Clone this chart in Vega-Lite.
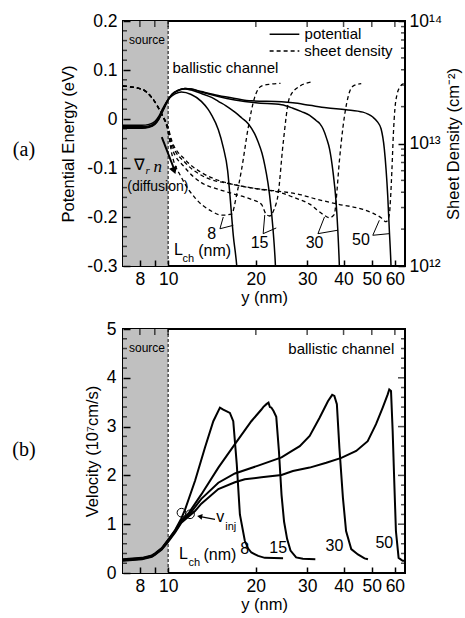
{
 "$schema": "https://vega.github.io/schema/vega-lite/v6.json",
 "padding": {"left": 11, "top": 11, "right": 0, "bottom": 0},
 "background": "white",
 "config": {
  "font": "Liberation Sans",
  "view": {"stroke": "black", "strokeWidth": 2},
  "axis": {"domain": false, "grid": false, "tickColor": "black", "tickWidth": 1.5, "labelColor": "black", "titleColor": "black", "labelFontSize": 17.5, "titleFontSize": 16.5, "titleFontWeight": "normal", "labelFont": "Liberation Sans", "titleFont": "Liberation Sans", "zindex": 1}
 },
 "datasets": {
  "pot": [
   {"y":7,"E":-0.013,"L":8},{"y":8.13,"E":-0.013,"L":8},{"y":8.6,"E":-0.011,"L":8},{"y":9.0,"E":-0.005,"L":8},{"y":9.3,"E":0.006,"L":8},{"y":9.6,"E":0.022,"L":8},{"y":9.95,"E":0.038,"L":8},{"y":10.3,"E":0.047,"L":8},{"y":10.85,"E":0.054,"L":8},{"y":11.1,"E":0.055,"L":8},{"y":12.0,"E":0.05,"L":8},{"y":13.0,"E":0.036,"L":8},{"y":13.7,"E":0.02,"L":8},{"y":14.1,"E":0.008,"L":8},{"y":14.87,"E":-0.022,"L":8},{"y":15.46,"E":-0.058,"L":8},{"y":16.0,"E":-0.105,"L":8},{"y":16.3,"E":-0.156,"L":8},{"y":16.73,"E":-0.237,"L":8},{"y":17.2,"E":-0.3,"L":8},{"y":17.4,"E":-0.34,"L":8},
   {"y":7,"E":-0.016,"L":15},{"y":8.13,"E":-0.016,"L":15},{"y":8.6,"E":-0.014,"L":15},{"y":9.0,"E":-0.008,"L":15},{"y":9.3,"E":0.003,"L":15},{"y":9.6,"E":0.02,"L":15},{"y":9.95,"E":0.038,"L":15},{"y":10.3,"E":0.05,"L":15},{"y":10.85,"E":0.058,"L":15},{"y":11.43,"E":0.061,"L":15},{"y":12.0,"E":0.059,"L":15},{"y":13.0,"E":0.052,"L":15},{"y":14.1,"E":0.044,"L":15},{"y":14.87,"E":0.036,"L":15},{"y":15.8,"E":0.027,"L":15},{"y":16.95,"E":0.014,"L":15},{"y":17.9,"E":0.002,"L":15},{"y":18.83,"E":-0.0095,"L":15},{"y":19.8,"E":-0.03,"L":15},{"y":20.37,"E":-0.047,"L":15},{"y":21.0,"E":-0.07,"L":15},{"y":21.46,"E":-0.094,"L":15},{"y":22.0,"E":-0.13,"L":15},{"y":22.3,"E":-0.156,"L":15},{"y":22.9,"E":-0.224,"L":15},{"y":23.35,"E":-0.3,"L":15},{"y":23.5,"E":-0.34,"L":15},
   {"y":7,"E":-0.018,"L":30},{"y":8.13,"E":-0.018,"L":30},{"y":8.6,"E":-0.016,"L":30},{"y":9.0,"E":-0.01,"L":30},{"y":9.3,"E":0.001,"L":30},{"y":9.6,"E":0.018,"L":30},{"y":9.95,"E":0.037,"L":30},{"y":10.3,"E":0.05,"L":30},{"y":10.85,"E":0.059,"L":30},{"y":11.43,"E":0.062,"L":30},{"y":12.0,"E":0.061,"L":30},{"y":13.0,"E":0.055,"L":30},{"y":14.87,"E":0.046,"L":30},{"y":16.95,"E":0.039,"L":30},{"y":20.0,"E":0.033,"L":30},{"y":24.5,"E":0.029,"L":30},{"y":26.8,"E":0.022,"L":30},{"y":28.7,"E":0.015,"L":30},{"y":30.6,"E":0.0075,"L":30},{"y":32.2,"E":-0.003,"L":30},{"y":33.2,"E":-0.01,"L":30},{"y":34.0,"E":-0.02,"L":30},{"y":35.0,"E":-0.04,"L":30},{"y":35.8,"E":-0.061,"L":30},{"y":36.8,"E":-0.108,"L":30},{"y":37.7,"E":-0.169,"L":30},{"y":38.2,"E":-0.224,"L":30},{"y":38.7,"E":-0.3,"L":30},{"y":38.9,"E":-0.34,"L":30},
   {"y":7,"E":-0.019,"L":50},{"y":8.13,"E":-0.019,"L":50},{"y":8.6,"E":-0.017,"L":50},{"y":9.0,"E":-0.011,"L":50},{"y":9.3,"E":0.0,"L":50},{"y":9.6,"E":0.017,"L":50},{"y":9.95,"E":0.036,"L":50},{"y":10.3,"E":0.05,"L":50},{"y":10.85,"E":0.059,"L":50},{"y":11.43,"E":0.062,"L":50},{"y":12.0,"E":0.061,"L":50},{"y":13.0,"E":0.056,"L":50},{"y":14.87,"E":0.048,"L":50},{"y":16.95,"E":0.042,"L":50},{"y":19.3,"E":0.037,"L":50},{"y":24.5,"E":0.035,"L":50},{"y":26.8,"E":0.033,"L":50},{"y":30.6,"E":0.028,"L":50},{"y":34.9,"E":0.023,"L":50},{"y":40.8,"E":0.019,"L":50},{"y":46.6,"E":0.014,"L":50},{"y":48.5,"E":0.01,"L":50},{"y":50.4,"E":0.004,"L":50},{"y":52.3,"E":-0.006,"L":50},{"y":53.8,"E":-0.02,"L":50},{"y":55.2,"E":-0.061,"L":50},{"y":56.0,"E":-0.105,"L":50},{"y":56.7,"E":-0.156,"L":50},{"y":57.4,"E":-0.224,"L":50},{"y":58.2,"E":-0.3,"L":50},{"y":58.5,"E":-0.34,"L":50}
  ],
  "dens": [
   {"y":7,"n":2.94e13,"L":8},{"y":8.13,"n":2.77e13,"L":8},{"y":8.79,"n":2.37e13,"L":8},{"y":9.51,"n":1.73e13,"L":8},{"y":9.95,"n":1.3e13,"L":8},{"y":10.3,"n":8.2e12,"L":8},{"y":11.1,"n":5.3e12,"L":8},{"y":12.37,"n":3.6e12,"L":8},{"y":14.1,"n":2.8e12,"L":8},{"y":15.3,"n":2.6e12,"L":8},{"y":16.5,"n":2.65e12,"L":8},{"y":17.2,"n":3.85e12,"L":8},{"y":17.9,"n":6.3e12,"L":8},{"y":18.83,"n":1.35e13,"L":8},{"y":19.8,"n":2.37e13,"L":8},{"y":20.9,"n":2.94e13,"L":8},{"y":22.5,"n":3.05e13,"L":8},{"y":24.3,"n":3.1e13,"L":8},
   {"y":7,"n":2.94e13,"L":15},{"y":8.13,"n":2.77e13,"L":15},{"y":8.79,"n":2.37e13,"L":15},{"y":9.51,"n":1.73e13,"L":15},{"y":9.95,"n":1.35e13,"L":15},{"y":10.3,"n":9.25e12,"L":15},{"y":11.43,"n":6.34e12,"L":15},{"y":13.0,"n":4.79e12,"L":15},{"y":14.87,"n":4.23e12,"L":15},{"y":16.95,"n":3.85e12,"L":15},{"y":19.3,"n":3.5e12,"L":15},{"y":20.9,"n":3.19e12,"L":15},{"y":21.7,"n":2.64e12,"L":15},{"y":22.3,"n":2.56e12,"L":15},{"y":23.1,"n":2.9e12,"L":15},{"y":23.85,"n":3.85e12,"L":15},{"y":24.8,"n":9.9e12,"L":15},{"y":26.1,"n":2.37e13,"L":15},{"y":28.3,"n":2.94e13,"L":15},{"y":31.4,"n":3.19e13,"L":15},
   {"y":7,"n":2.94e13,"L":30},{"y":8.13,"n":2.77e13,"L":30},{"y":8.79,"n":2.37e13,"L":30},{"y":9.51,"n":1.73e13,"L":30},{"y":9.95,"n":1.38e13,"L":30},{"y":10.3,"n":1.0e13,"L":30},{"y":11.43,"n":7.0e12,"L":30},{"y":13.0,"n":5.5e12,"L":30},{"y":16.95,"n":4.6e12,"L":30},{"y":20.4,"n":4.25e12,"L":30},{"y":24.5,"n":3.95e12,"L":30},{"y":26.8,"n":3.65e12,"L":30},{"y":30.6,"n":3.2e12,"L":30},{"y":34.0,"n":2.64e12,"L":30},{"y":35.8,"n":2.48e12,"L":30},{"y":37.2,"n":2.64e12,"L":30},{"y":37.7,"n":3.4e12,"L":30},{"y":38.7,"n":7.2e12,"L":30},{"y":39.8,"n":1.35e13,"L":30},{"y":41.4,"n":2.37e13,"L":30},{"y":43.1,"n":2.94e13,"L":30},{"y":46.0,"n":3.08e13,"L":30},
   {"y":7,"n":2.94e13,"L":50},{"y":8.13,"n":2.77e13,"L":50},{"y":8.79,"n":2.37e13,"L":50},{"y":9.51,"n":1.73e13,"L":50},{"y":9.95,"n":1.4e13,"L":50},{"y":10.3,"n":1.05e13,"L":50},{"y":11.43,"n":7.4e12,"L":50},{"y":13.0,"n":5.8e12,"L":50},{"y":15.3,"n":4.9e12,"L":50},{"y":16.95,"n":4.6e12,"L":50},{"y":21.46,"n":4.2e12,"L":50},{"y":24.5,"n":4.05e12,"L":50},{"y":28.7,"n":3.8e12,"L":50},{"y":31.8,"n":3.55e12,"L":50},{"y":38.2,"n":3.2e12,"L":50},{"y":46.6,"n":2.9e12,"L":50},{"y":50.4,"n":2.7e12,"L":50},{"y":53.8,"n":2.48e12,"L":50},{"y":56.0,"n":2.3e12,"L":50},{"y":57.4,"n":2.6e12,"L":50},{"y":58.0,"n":3.6e12,"L":50},{"y":58.6,"n":6e12,"L":50},{"y":59.3,"n":1.2e13,"L":50},{"y":60.0,"n":1.9e13,"L":50},{"y":61.0,"n":2.5e13,"L":50},{"y":62.5,"n":2.9e13,"L":50},{"y":64.5,"n":3.1e13,"L":50}
  ],
  "brk": [
   {"y":15.46,"E":-0.2,"L":8,"i":0},{"y":15.06,"E":-0.224,"L":8,"i":1},{"y":16.73,"E":-0.217,"L":8,"i":2},
   {"y":21.46,"E":-0.196,"L":15,"i":0},{"y":21.19,"E":-0.234,"L":15,"i":1},{"y":23.5,"E":-0.2224,"L":15,"i":2},
   {"y":34.4,"E":-0.2,"L":30,"i":0},{"y":32.67,"E":-0.234,"L":30,"i":1},{"y":38.2,"E":-0.227,"L":30,"i":2},
   {"y":53.06,"E":-0.2067,"L":50,"i":0},{"y":50.4,"E":-0.2373,"L":50,"i":1},{"y":57.4,"E":-0.234,"L":50,"i":2}
  ],
  "vel": [
   {"y":7,"v":0.27,"L":8},{"y":8.13,"v":0.3,"L":8},{"y":8.79,"v":0.35,"L":8},{"y":9.0,"v":0.39,"L":8},{"y":9.51,"v":0.5,"L":8},{"y":10.0,"v":0.68,"L":8},{"y":10.57,"v":0.88,"L":8},{"y":11.1,"v":1.12,"L":8},{"y":11.43,"v":1.3,"L":8},{"y":12.37,"v":1.89,"L":8},{"y":13.38,"v":2.57,"L":8},{"y":14.29,"v":3.11,"L":8},{"y":15.06,"v":3.39,"L":8},{"y":15.46,"v":3.35,"L":8},{"y":16.29,"v":3.28,"L":8},{"y":16.73,"v":3.11,"L":8},{"y":17.2,"v":2.23,"L":8},{"y":17.63,"v":1.2,"L":8},{"y":18.33,"v":0.66,"L":8},{"y":18.83,"v":0.5,"L":8},{"y":19.3,"v":0.42,"L":8},{"y":20.37,"v":0.35,"L":8},{"y":21.46,"v":0.31,"L":8},{"y":24.8,"v":0.3,"L":8},
   {"y":7,"v":0.28,"L":15},{"y":8.13,"v":0.31,"L":15},{"y":8.79,"v":0.36,"L":15},{"y":9.0,"v":0.4,"L":15},{"y":9.51,"v":0.51,"L":15},{"y":10.0,"v":0.68,"L":15},{"y":10.57,"v":0.87,"L":15},{"y":11.1,"v":1.08,"L":15},{"y":11.74,"v":1.22,"L":15},{"y":13.0,"v":1.61,"L":15},{"y":14.87,"v":2.16,"L":15},{"y":16.95,"v":2.64,"L":15},{"y":19.3,"v":3.11,"L":15},{"y":20.9,"v":3.35,"L":15},{"y":21.2,"v":3.4,"L":15},{"y":21.74,"v":3.46,"L":15},{"y":22.1,"v":3.49,"L":15},{"y":22.35,"v":3.4,"L":15},{"y":22.6,"v":3.39,"L":15},{"y":23.0,"v":3.32,"L":15},{"y":23.5,"v":3.2,"L":15},{"y":24.0,"v":2.5,"L":15},{"y":24.5,"v":1.6,"L":15},{"y":25.0,"v":1.05,"L":15},{"y":25.6,"v":0.7,"L":15},{"y":26.3,"v":0.46,"L":15},{"y":27.5,"v":0.32,"L":15},{"y":29.0,"v":0.29,"L":15},{"y":32.0,"v":0.28,"L":15},
   {"y":7,"v":0.26,"L":30},{"y":8.13,"v":0.29,"L":30},{"y":8.79,"v":0.34,"L":30},{"y":9.0,"v":0.38,"L":30},{"y":9.51,"v":0.49,"L":30},{"y":10.0,"v":0.66,"L":30},{"y":10.57,"v":0.85,"L":30},{"y":11.1,"v":1.05,"L":30},{"y":12.0,"v":1.25,"L":30},{"y":13.0,"v":1.52,"L":30},{"y":14.87,"v":1.85,"L":30},{"y":16.95,"v":2.04,"L":30},{"y":20.37,"v":2.2,"L":30},{"y":24.5,"v":2.37,"L":30},{"y":26.1,"v":2.47,"L":30},{"y":28.3,"v":2.6,"L":30},{"y":30.6,"v":2.81,"L":30},{"y":33.1,"v":3.18,"L":30},{"y":35.35,"v":3.52,"L":30},{"y":36.57,"v":3.65,"L":30},{"y":37.2,"v":3.63,"L":30},{"y":37.94,"v":3.46,"L":30},{"y":38.7,"v":2.57,"L":30},{"y":39.8,"v":1.54,"L":30},{"y":40.8,"v":0.86,"L":30},{"y":42.5,"v":0.49,"L":30},{"y":44.8,"v":0.38,"L":30},{"y":47.2,"v":0.3,"L":30},{"y":48.5,"v":0.28,"L":30},
   {"y":7,"v":0.25,"L":50},{"y":8.13,"v":0.28,"L":50},{"y":8.79,"v":0.33,"L":50},{"y":9.0,"v":0.37,"L":50},{"y":9.51,"v":0.48,"L":50},{"y":10.0,"v":0.64,"L":50},{"y":10.57,"v":0.83,"L":50},{"y":11.1,"v":1.03,"L":50},{"y":12.37,"v":1.27,"L":50},{"y":13.0,"v":1.42,"L":50},{"y":14.87,"v":1.72,"L":50},{"y":16.95,"v":1.86,"L":50},{"y":18.33,"v":1.92,"L":50},{"y":20.9,"v":1.96,"L":50},{"y":24.5,"v":2.01,"L":50},{"y":26.8,"v":2.09,"L":50},{"y":30.6,"v":2.16,"L":50},{"y":34.9,"v":2.26,"L":50},{"y":39.3,"v":2.36,"L":50},{"y":44.2,"v":2.5,"L":50},{"y":48.4,"v":2.7,"L":50},{"y":51.7,"v":3.05,"L":50},{"y":54.5,"v":3.39,"L":50},{"y":56.7,"v":3.66,"L":50},{"y":57.4,"v":3.76,"L":50},{"y":58.2,"v":3.73,"L":50},{"y":58.96,"v":2.91,"L":50},{"y":59.7,"v":1.89,"L":50},{"y":60.5,"v":0.86,"L":50},{"y":61.8,"v":0.31,"L":50},{"y":63.8,"v":0.25,"L":50},{"y":64.8,"v":0.25,"L":50}
  ],
  "xticks": [{"t":8},{"t":9},{"t":10},{"t":20},{"t":30},{"t":40},{"t":50},{"t":60}],
  "eminor": [{"t":-0.28},{"t":-0.26},{"t":-0.24},{"t":-0.22},{"t":-0.18},{"t":-0.16},{"t":-0.14},{"t":-0.12},{"t":-0.08},{"t":-0.06},{"t":-0.04},{"t":-0.02},{"t":0.02},{"t":0.04},{"t":0.06},{"t":0.08},{"t":0.12},{"t":0.14},{"t":0.16},{"t":0.18}],
  "nminor": [{"t":2e12},{"t":3e12},{"t":4e12},{"t":5e12},{"t":6e12},{"t":7e12},{"t":8e12},{"t":9e12},{"t":2e13},{"t":3e13},{"t":4e13},{"t":5e13},{"t":6e13},{"t":7e13},{"t":8e13},{"t":9e13}],
  "vmajor": [{"t":1},{"t":2},{"t":3},{"t":4}],
  "vminor": [{"t":0.2},{"t":0.4},{"t":0.6},{"t":0.8},{"t":1.2},{"t":1.4},{"t":1.6},{"t":1.8},{"t":2.2},{"t":2.4},{"t":2.6},{"t":2.8},{"t":3.2},{"t":3.4},{"t":3.6},{"t":3.8},{"t":4.2},{"t":4.4},{"t":4.6},{"t":4.8}]
 },
 "spacing": 63,
 "bounds": "flush",
 "vconcat": [
  {
   "width": 282, "height": 245,
   "resolve": {"scale": {"y": "independent"}},
   "layer": [
    {
     "layer": [
      {"data": {"values": [{"y0": 7, "y1": 10}]},
       "mark": {"type": "rect", "color": "#c0c0c0"},
       "encoding": {
        "x": {"field": "y0", "type": "quantitative", "scale": {"type": "log", "domain": [7, 65], "nice": false},
              "axis": {"orient": "bottom", "zindex": 2, "values": [8,9,10,20,30,40,50,60], "labelExpr": "datum.value == 9 ? '' : '' + datum.value", "title": "y (nm)", "tickSize": -6, "labelPadding": 10, "titlePadding": 2}},
        "x2": {"field": "y1"}}},
      {"data": {"values": [{"y": 10}]},
       "mark": {"type": "rule", "strokeDash": [3, 2], "strokeWidth": 1, "color": "black"},
       "encoding": {"x": {"field": "y", "type": "quantitative"}}},
      {"data": {"name": "pot"},
       "mark": {"type": "line", "clip": true, "color": "black", "strokeWidth": 1.5, "interpolate": "monotone"},
       "encoding": {
        "x": {"field": "y", "type": "quantitative"},
        "y": {"field": "E", "type": "quantitative", "scale": {"domain": [-0.3, 0.2], "nice": false, "zero": false},
              "axis": {"orient": "left", "zindex": 2, "values": [-0.3,-0.2,-0.1,0,0.1,0.2], "labelExpr": "datum.value == 0 ? '0' : (datum.value < 0 ? '-' : '') + format(abs(datum.value), '.1f')", "title": "Potential Energy (eV)", "tickSize": -7, "labelPadding": 13, "titlePadding": 10}},
        "detail": {"field": "L"}}},
      {"data": {"name": "brk"},
       "mark": {"type": "line", "color": "black", "strokeWidth": 1},
       "encoding": {
        "x": {"field": "y", "type": "quantitative"},
        "y": {"field": "E", "type": "quantitative"},
        "detail": {"field": "L"},
        "order": {"field": "i"}}},
      {"data": {"name": "xticks"},
       "mark": {"type": "tick", "orient": "vertical", "clip": true, "color": "black", "size": 12, "thickness": 1.5},
       "encoding": {
        "x": {"field": "t", "type": "quantitative"},
        "y": {"datum": 0.2, "type": "quantitative"}}},
      {"data": {"name": "eminor"},
       "mark": {"type": "tick", "orient": "horizontal", "clip": true, "color": "black", "size": 8, "thickness": 1.5},
       "encoding": {
        "x": {"datum": 7, "type": "quantitative"},
        "y": {"field": "t", "type": "quantitative"}}},
      {"data": {"values": [{"y": 9.51, "E": -0.037}, {"y": 10.45, "E": -0.1}]},
       "mark": {"type": "line", "color": "black", "strokeWidth": 2},
       "encoding": {
        "x": {"field": "y", "type": "quantitative"},
        "y": {"field": "E", "type": "quantitative"}}},
      {"data": {"values": [{"y": 10.49, "E": -0.1055}]},
       "mark": {"type": "point", "shape": "triangle-up", "angle": 160, "filled": true, "color": "black", "opacity": 1, "size": 70},
       "encoding": {
        "x": {"field": "y", "type": "quantitative"},
        "y": {"field": "E", "type": "quantitative"}}},
      {"data": {"values": [{"y": 22.3, "E": 0.1729, "k": "potential"}, {"y": 28.2, "E": 0.1729, "k": "potential"}, {"y": 22.3, "E": 0.1388, "k": "sheet density"}, {"y": 28.2, "E": 0.1388, "k": "sheet density"}]},
       "mark": {"type": "line", "color": "black", "strokeWidth": 1.5},
       "encoding": {
        "x": {"field": "y", "type": "quantitative"},
        "y": {"field": "E", "type": "quantitative"},
        "detail": {"field": "k"},
        "strokeDash": {"field": "k", "type": "nominal", "scale": {"domain": ["potential", "sheet density"], "range": [[1, 0], [4, 3]]}, "legend": null}}},
      {"data": {"values": [{"y": 10.35, "E": 0.104, "t": "ballistic channel"}, {"y": 29.4, "E": 0.174, "t": "potential"}, {"y": 29.3, "E": 0.1388, "t": "sheet density"}]},
       "mark": {"type": "text", "align": "left", "baseline": "middle", "fontSize": 15, "color": "black"},
       "encoding": {
        "x": {"field": "y", "type": "quantitative"},
        "y": {"field": "E", "type": "quantitative"},
        "text": {"field": "t"}}},
      {"data": {"values": [{"y": 14.1, "E": -0.234, "t": "8"}, {"y": 20.6, "E": -0.254, "t": "15"}, {"y": 31.8, "E": -0.254, "t": "30"}, {"y": 45.9, "E": -0.2475, "t": "50"}, {"y": 14.44, "E": -0.27, "t": "(nm)"}, {"y": 10.85, "E": -0.268, "t": "L"}]},
       "mark": {"type": "text", "align": "center", "baseline": "middle", "fontSize": 16, "color": "black"},
       "encoding": {
        "x": {"field": "y", "type": "quantitative"},
        "y": {"field": "E", "type": "quantitative"},
        "text": {"field": "t"}}},
      {"data": {"values": [{"y": 11.74, "E": -0.285, "t": "ch"}]},
       "mark": {"type": "text", "align": "center", "baseline": "middle", "fontSize": 11, "color": "black"},
       "encoding": {
        "x": {"field": "y", "type": "quantitative"},
        "y": {"field": "E", "type": "quantitative"},
        "text": {"field": "t"}}},
      {"data": {"values": [{"y": 8.46, "E": 0.1606, "t": "source"}]},
       "mark": {"type": "text", "align": "center", "baseline": "middle", "fontSize": 12, "color": "black"},
       "encoding": {
        "x": {"field": "y", "type": "quantitative"},
        "y": {"field": "E", "type": "quantitative"},
        "text": {"field": "t"}}},
      {"data": {"values": [{"y": 9.22, "E": -0.139, "t": "(diffusion)"}]},
       "mark": {"type": "text", "align": "center", "baseline": "middle", "fontSize": 14, "color": "black"},
       "encoding": {
        "x": {"field": "y", "type": "quantitative"},
        "y": {"field": "E", "type": "quantitative"},
        "text": {"field": "t"}}},
      {"data": {"values": [{"y": 7.97, "E": -0.0939, "t": "∇"}]},
       "mark": {"type": "text", "align": "center", "baseline": "middle", "fontSize": 16, "font": "Liberation Serif", "color": "black"},
       "encoding": {
        "x": {"field": "y", "type": "quantitative"},
        "y": {"field": "E", "type": "quantitative"},
        "text": {"field": "t"}}},
      {"data": {"values": [{"y": 9.22, "E": -0.097, "t": "n"}]},
       "mark": {"type": "text", "align": "center", "baseline": "middle", "fontSize": 17, "font": "Liberation Serif", "fontStyle": "italic", "color": "black"},
       "encoding": {
        "x": {"field": "y", "type": "quantitative"},
        "y": {"field": "E", "type": "quantitative"},
        "text": {"field": "t"}}},
      {"data": {"values": [{"y": 8.5, "E": -0.107, "t": "r"}]},
       "mark": {"type": "text", "align": "center", "baseline": "middle", "fontSize": 11, "font": "Liberation Serif", "fontStyle": "italic", "color": "black"},
       "encoding": {
        "x": {"field": "y", "type": "quantitative"},
        "y": {"field": "E", "type": "quantitative"},
        "text": {"field": "t"}}},
      {"data": {"values": [{"y": 3.2, "E": -0.063, "t": "(a)"}]},
       "mark": {"type": "text", "align": "center", "baseline": "middle", "fontSize": 20, "font": "Liberation Serif", "color": "black"},
       "encoding": {
        "x": {"field": "y", "type": "quantitative"},
        "y": {"field": "E", "type": "quantitative"},
        "text": {"field": "t"}}}
     ]
    },
    {
     "layer": [
      {"data": {"name": "dens"},
       "mark": {"type": "line", "clip": true, "color": "black", "strokeWidth": 1.3, "strokeDash": [4, 3], "interpolate": "monotone"},
       "encoding": {
        "x": {"field": "y", "type": "quantitative"},
        "y": {"field": "n", "type": "quantitative", "scale": {"type": "log", "domain": [1e12, 1e14], "nice": false},
              "axis": {"orient": "right", "zindex": 2, "values": [1e12, 1e13, 1e14], "labelExpr": "datum.value == 1e12 ? '10¹²' : datum.value == 1e13 ? '10¹³' : '10¹⁴'", "title": "Sheet Density (cm⁻²)", "titleAngle": 270, "titleBaseline": "top", "tickSize": -7, "labelPadding": 11, "titlePadding": 4}},
        "detail": {"field": "L"}}},
      {"data": {"name": "nminor"},
       "mark": {"type": "tick", "orient": "horizontal", "clip": true, "color": "black", "size": 8, "thickness": 1.5},
       "encoding": {
        "x": {"datum": 65, "type": "quantitative"},
        "y": {"field": "t", "type": "quantitative"}}}
     ]
    }
   ]
  },
  {
   "width": 282, "height": 244,
   "layer": [
    {"data": {"values": [{"y0": 7, "y1": 10}]},
     "mark": {"type": "rect", "color": "#c0c0c0"},
     "encoding": {
      "x": {"field": "y0", "type": "quantitative", "scale": {"type": "log", "domain": [7, 65], "nice": false},
            "axis": {"orient": "bottom", "zindex": 2, "values": [8,9,10,20,30,40,50,60], "labelExpr": "datum.value == 9 ? '' : '' + datum.value", "title": "y (nm)", "tickSize": -6, "labelPadding": 10, "titlePadding": 2}},
      "x2": {"field": "y1"}}},
    {"data": {"values": [{"y": 10}]},
     "mark": {"type": "rule", "strokeDash": [3, 2], "strokeWidth": 1, "color": "black"},
     "encoding": {"x": {"field": "y", "type": "quantitative"}}},
    {"data": {"name": "vel"},
     "mark": {"type": "line", "color": "black", "strokeWidth": 2},
     "encoding": {
      "x": {"field": "y", "type": "quantitative"},
      "y": {"field": "v", "type": "quantitative", "scale": {"domain": [0, 5], "nice": false},
            "axis": {"orient": "left", "zindex": 2, "values": [0,1,2,3,4,5], "title": "Velocity (10⁷cm/s)", "tickSize": -7, "labelPadding": 14, "titlePadding": 5.5}},
      "detail": {"field": "L"}}},
    {"data": {"name": "xticks"},
     "mark": {"type": "tick", "orient": "vertical", "clip": true, "color": "black", "size": 12, "thickness": 1.5},
     "encoding": {
      "x": {"field": "t", "type": "quantitative"},
      "y": {"datum": 5, "type": "quantitative"}}},
    {"data": {"name": "vminor"},
     "mark": {"type": "tick", "orient": "horizontal", "clip": true, "color": "black", "size": 8, "thickness": 1.5},
     "encoding": {
      "x": {"datum": 7, "type": "quantitative"},
      "y": {"field": "t", "type": "quantitative"}}},
    {"data": {"name": "vminor"},
     "mark": {"type": "tick", "orient": "horizontal", "clip": true, "color": "black", "size": 8, "thickness": 1.5},
     "encoding": {
      "x": {"datum": 65, "type": "quantitative"},
      "y": {"field": "t", "type": "quantitative"}}},
    {"data": {"name": "vmajor"},
     "mark": {"type": "tick", "orient": "horizontal", "clip": true, "color": "black", "size": 14, "thickness": 1.5},
     "encoding": {
      "x": {"datum": 65, "type": "quantitative"},
      "y": {"field": "t", "type": "quantitative"}}},
    {"data": {"values": [{"y": 11.11, "v": 1.236}, {"y": 11.89, "v": 1.203}]},
     "mark": {"type": "point", "shape": "circle", "filled": false, "color": "black", "strokeWidth": 1, "size": 75, "opacity": 1},
     "encoding": {
      "x": {"field": "y", "type": "quantitative"},
      "y": {"field": "v", "type": "quantitative"}}},
    {"data": {"values": [{"y": 14.48, "v": 1.1}, {"y": 12.9, "v": 1.157}]},
     "mark": {"type": "line", "color": "black", "strokeWidth": 1.2},
     "encoding": {
      "x": {"field": "y", "type": "quantitative"},
      "y": {"field": "v", "type": "quantitative"}}},
    {"data": {"values": [{"y": 12.83, "v": 1.16}]},
     "mark": {"type": "point", "shape": "triangle-up", "angle": 280, "filled": true, "color": "black", "opacity": 1, "size": 35},
     "encoding": {
      "x": {"field": "y", "type": "quantitative"},
      "y": {"field": "v", "type": "quantitative"}}},
    {"data": {"values": [{"y": 8.46, "v": 4.617, "t": "source"}]},
     "mark": {"type": "text", "align": "center", "baseline": "middle", "fontSize": 12, "color": "black"},
     "encoding": {
      "x": {"field": "y", "type": "quantitative"},
      "y": {"field": "v", "type": "quantitative"},
      "text": {"field": "t"}}},
    {"data": {"values": [{"y": 59.7, "v": 4.58, "t": "ballistic channel"}]},
     "mark": {"type": "text", "align": "right", "baseline": "middle", "fontSize": 15, "color": "black"},
     "encoding": {
      "x": {"field": "y", "type": "quantitative"},
      "y": {"field": "v", "type": "quantitative"},
      "text": {"field": "t"}}},
    {"data": {"values": [{"y": 11.29, "v": 0.383, "t": "L"}, {"y": 15.06, "v": 0.369, "t": "(nm)"}, {"y": 18.33, "v": 0.486, "t": "8"}, {"y": 23.85, "v": 0.518, "t": "15"}, {"y": 37.2, "v": 0.553, "t": "30"}, {"y": 55.2, "v": 0.621, "t": "50"}, {"y": 15.1, "v": 1.15, "t": "v"}]},
     "mark": {"type": "text", "align": "center", "baseline": "middle", "fontSize": 16, "color": "black"},
     "encoding": {
      "x": {"field": "y", "type": "quantitative"},
      "y": {"field": "v", "type": "quantitative"},
      "text": {"field": "t"}}},
    {"data": {"values": [{"y": 12.29, "v": 0.211, "t": "ch"}, {"y": 16.4, "v": 0.94, "t": "inj"}]},
     "mark": {"type": "text", "align": "center", "baseline": "middle", "fontSize": 11, "color": "black"},
     "encoding": {
      "x": {"field": "y", "type": "quantitative"},
      "y": {"field": "v", "type": "quantitative"},
      "text": {"field": "t"}}},
    {"data": {"values": [{"y": 3.2, "v": 2.52, "t": "(b)"}]},
     "mark": {"type": "text", "align": "center", "baseline": "middle", "fontSize": 20, "font": "Liberation Serif", "color": "black"},
     "encoding": {
      "x": {"field": "y", "type": "quantitative"},
      "y": {"field": "v", "type": "quantitative"},
      "text": {"field": "t"}}}
   ]
  }
 ]
}
